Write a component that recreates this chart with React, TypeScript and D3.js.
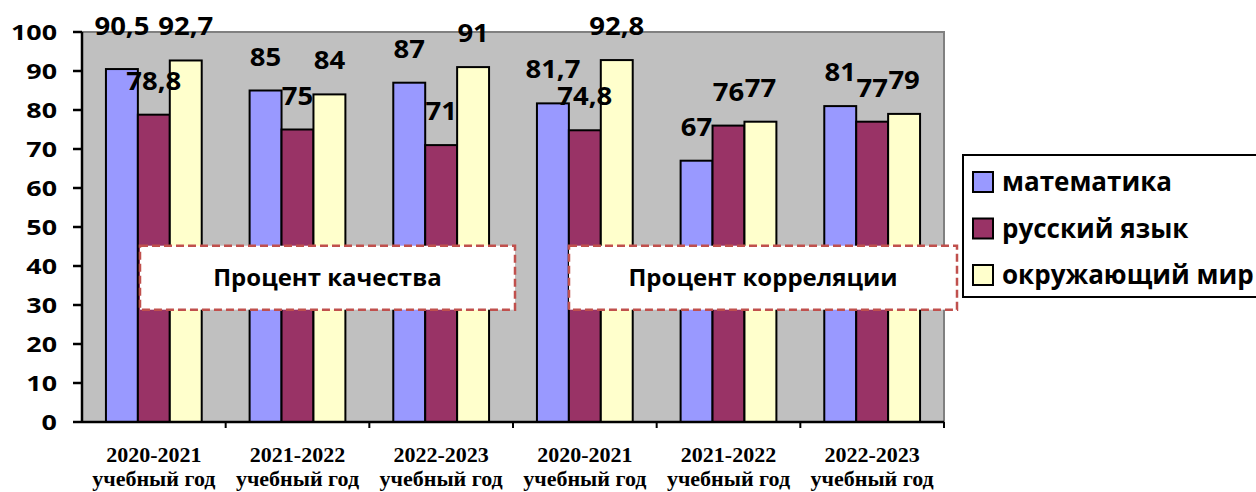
import React from "react";
import * as d3 from "d3";

const categories = [
  "2020-2021",
  "2021-2022",
  "2022-2023",
  "2020-2021",
  "2021-2022",
  "2022-2023",
];
const categorySub = "учебный год";

const seriesNames = ["математика", "русский язык", "окружающий мир"];
const seriesColors = ["#9999ff", "#993366", "#ffffcc"];

const mathValues = [90.5, 85, 87, 81.7, 67, 81];
const russianValues = [78.8, 75, 71, 74.8, 76, 77];
const worldValues = [92.7, 84, 91, 92.8, 77, 79];

const yTicks = [0, 10, 20, 30, 40, 50, 60, 70, 80, 90, 100];

const boxTitles = ["Процент качества", "Процент корреляции"];

// the first label in the original sits a bit higher than the others
const labelNudge: Record<string, number> = { "0-0": -9 };

const W = 1256;
const H = 492;
const left = 82;
const right = 944;
const top = 32;
const bottom = 422;

const fmt = (v: number) => String(v).replace(".", ",");

const App: React.FC = () => {
  const values = [mathValues, russianValues, worldValues];

  const x = d3
    .scaleBand<number>()
    .domain(categories.map((_, i) => i))
    .range([left, right])
    .padding(0);

  const xs = d3
    .scaleBand<number>()
    .domain(seriesNames.map((_, i) => i))
    .range([0, x.bandwidth()])
    .paddingInner(0)
    .paddingOuter(0.75);

  const y = d3.scaleLinear().domain([0, 100]).range([bottom, top]);

  const sans = "'Open Sans', 'Noto Sans', sans-serif";
  const serif = "'Liberation Serif', 'Times New Roman', serif";

  // text boxes span half of the plot each
  const half = (right - left) / 2;
  const boxes = [
    { x0: left + 58, x1: left + half + 2, title: boxTitles[0] },
    { x0: left + half + 56, x1: right + 13, title: boxTitles[1] },
  ];
  const boxTop = y(45.2);
  const boxBottom = y(28.8);

  const legendX = 963;
  const legendY = 155;
  const legendRow = 46.5;

  return (
    <svg
      width={W}
      height={H}
      style={{ position: "absolute", left: 0, top: 0, background: "#fff" }}
    >
      {/* plot area */}
      <rect x={left} y={top} width={right - left} height={bottom - top} fill="#c0c0c0" />
      <path
        d={`M${left},${top}H${right}V${bottom}`}
        fill="none"
        stroke="#808080"
        strokeWidth={2}
      />

      {/* bars */}
      {categories.map((_, ci) =>
        values.map((arr, si) => (
          <rect
            key={`b-${ci}-${si}`}
            x={(x(ci) as number) + (xs(si) as number)}
            y={y(arr[ci])}
            width={xs.bandwidth()}
            height={y(0) - y(arr[ci])}
            fill={seriesColors[si]}
            stroke="#000"
            strokeWidth={2}
          />
        ))
      )}

      {/* y axis */}
      <line x1={left} x2={left} y1={top} y2={bottom} stroke="#000" strokeWidth={2.5} />
      {yTicks.map((t) => (
        <g key={`yt-${t}`}>
          <line x1={left - 9} x2={left} y1={y(t)} y2={y(t)} stroke="#000" strokeWidth={2.5} />
          <text
            transform={`translate(${57},${y(t) + 7.5}) scale(1.28,1)`}
            textAnchor="end"
            fontFamily={sans}
            fontWeight="bold"
            fontSize={21}
            fill="#000"
          >
            {t}
          </text>
        </g>
      ))}

      {/* x axis */}
      <line x1={left} x2={right} y1={bottom} y2={bottom} stroke="#000" strokeWidth={2.5} />
      {categories.map((_, ci) => (
        <line
          key={`xt-${ci}`}
          x1={(x(ci) as number) + x.bandwidth()}
          x2={(x(ci) as number) + x.bandwidth()}
          y1={bottom}
          y2={bottom + 6}
          stroke="#000"
          strokeWidth={2}
        />
      ))}
      {categories.map((c, ci) => {
        const cx = (x(ci) as number) + x.bandwidth() / 2;
        return (
          <g key={`xl-${ci}`} fontFamily={serif} fontWeight="bold" fontSize={22} fill="#000">
            <text x={cx} y={462} textAnchor="middle">
              {c}
            </text>
            <text x={cx} y={486} textAnchor="middle">
              {categorySub}
            </text>
          </g>
        );
      })}

      {/* value labels */}
      {categories.map((_, ci) =>
        values.map((arr, si) => {
          const cx = (x(ci) as number) + (xs(si) as number) + xs.bandwidth() / 2;
          const dy = labelNudge[`${ci}-${si}`] || 0;
          return (
            <text
              key={`v-${ci}-${si}`}
              transform={`translate(${cx},${y(arr[ci]) - 25 + dy}) scale(1.1,1)`}
              textAnchor="middle"
              fontFamily={sans}
              fontWeight="bold"
              fontSize={25}
              fill="#000"
            >
              {fmt(arr[ci])}
            </text>
          );
        })
      )}

      {/* text boxes */}
      {boxes.map((b, i) => (
        <g key={`box-${i}`}>
          <rect
            x={b.x0}
            y={boxTop}
            width={b.x1 - b.x0}
            height={boxBottom - boxTop}
            fill="#fff"
            stroke="#c0504d"
            strokeWidth={2.5}
            strokeDasharray="8,4"
          />
          <text
            x={(b.x0 + b.x1) / 2}
            y={(boxTop + boxBottom) / 2 + 8.5}
            textAnchor="middle"
            fontFamily={sans}
            fontWeight="bold"
            fontSize={24}
            fill="#000"
          >
            {b.title}
          </text>
        </g>
      ))}

      {/* legend */}
      <rect
        x={legendX}
        y={legendY}
        width={W - legendX + 10}
        height={142}
        fill="#fff"
        stroke="#000"
        strokeWidth={2}
      />
      {seriesNames.map((s, i) => {
        const cy = legendY + 27 + i * legendRow;
        return (
          <g key={`lg-${i}`}>
            <rect
              x={legendX + 10}
              y={cy - 10}
              width={20}
              height={20}
              fill={seriesColors[i]}
              stroke="#000"
              strokeWidth={2}
            />
            <text
              x={legendX + 39}
              y={cy + 9}
              fontFamily={sans}
              fontWeight="bold"
              fontSize={26}
              fill="#000"
            >
              {s}
            </text>
          </g>
        );
      })}
    </svg>
  );
};

export default App;
